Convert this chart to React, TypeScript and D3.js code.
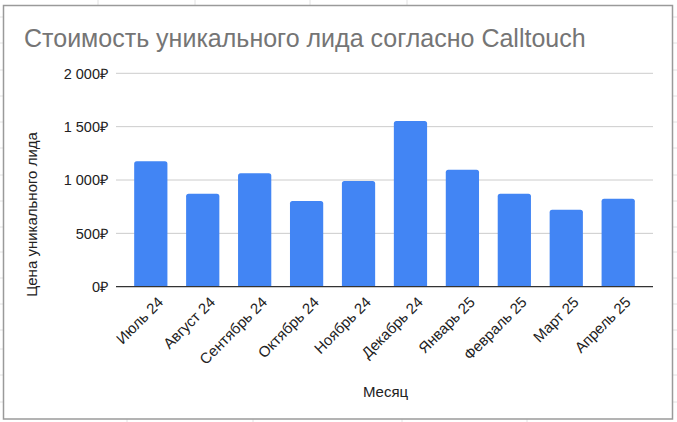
import React from "react";
import * as d3 from "d3";

const months = ["Июль 24", "Август 24", "Сентябрь 24", "Октябрь 24", "Ноябрь 24", "Декабрь 24", "Январь 25", "Февраль 25", "Март 25", "Апрель 25"];
const costs = [1175, 872, 1063, 803, 991, 1553, 1097, 872, 722, 825];
const yTicks = [0, 500, 1000, 1500, 2000];
const title = "Стоимость уникального лида согласно Calltouch";
const yTitle = "Цена уникального лида";
const xTitle = "Месяц";

const W = 677, H = 422;
const left = 116, right = 653, top = 73.3, bottom = 286.7;
const font = "Arial, 'Liberation Sans', sans-serif";

function fmt(v: number) {
  return d3.format(",")(v).replace(/,/g, "\u00a0") + "₽";
}

function barPath(x: number, y: number, w: number, h: number, r: number) {
  return `M${x},${y + h}V${y + r}Q${x},${y} ${x + r},${y}H${x + w - r}Q${x + w},${y} ${x + w},${y + r}V${y + h}Z`;
}

export default function App() {
  const x = d3.scaleBand<string>().domain(months).range([left, right]).paddingInner(0.36).paddingOuter(0.35);
  const y = d3.scaleLinear().domain([0, 2000]).range([bottom, top]);
  const sheetV = [98, 195, 310, 407];
  const sheetVb = [127, 253, 402, 527];
  const sheetH = [17, 43, 70, 96, 122, 148, 175, 201, 227, 252, 278, 304, 330, 349, 375, 402];
  return (
    <svg width={W} height={H} style={{ position: "absolute", left: 0, top: 0, display: "block" }}>
      <rect x={0} y={0} width={W} height={H} fill="#fff" />
      {sheetV.map((v) => (
        <line key={"sv" + v} x1={v} x2={v} y1={0} y2={5} stroke="#e2e2e2" />
      ))}
      {sheetVb.map((v) => (
        <line key={"svb" + v} x1={v} x2={v} y1={419} y2={H} stroke="#e2e2e2" />
      ))}
      {sheetH.map((v) => (
        <g key={"sh" + v}>
          <line x1={0} x2={3} y1={v} y2={v} stroke="#e2e2e2" />
          <line x1={673} x2={W} y1={v} y2={v} stroke="#e2e2e2" />
        </g>
      ))}
      <rect x={3.5} y={5.5} width={669} height={413.5} fill="#fff" stroke="#9a9a9a" strokeWidth={1.5} />
      <text x={24} y={47} fontFamily={font} fontSize={25} fill="#757575">{title}</text>
      {yTicks.map((t) => (
        <g key={t}>
          {t > 0 && <line x1={left} x2={right} y1={y(t)} y2={y(t)} stroke="#cccccc" strokeWidth={1} />}
          <text x={108} y={y(t)} dy="0.36em" textAnchor="end" fontFamily={font} fontSize={14.5} fill="#222">{fmt(t)}</text>
        </g>
      ))}
      {months.map((m, i) => {
        const bx = x(m)!;
        const by = y(costs[i]);
        return <path key={m} d={barPath(bx, by, x.bandwidth(), bottom - by, 2.5)} fill="#4285f4" />;
      })}
      <line x1={left} x2={right} y1={bottom} y2={bottom} stroke="#333" strokeWidth={1.3} />
      {months.map((m) => {
        const cx = x(m)! + x.bandwidth() / 2;
        return (
          <text key={"l" + m} transform={`translate(${cx + 6},${bottom + 9}) rotate(-45)`} textAnchor="end" dy="0.7em" fontFamily={font} fontSize={15} fill="#222">
            {m}
          </text>
        );
      })}
      <text x={385.5} y={397} textAnchor="middle" fontFamily={font} fontSize={15} fill="#222">{xTitle}</text>
      <text transform={`translate(37,214.5) rotate(-90)`} textAnchor="middle" fontFamily={font} fontSize={15} fill="#222">{yTitle}</text>
    </svg>
  );
}
